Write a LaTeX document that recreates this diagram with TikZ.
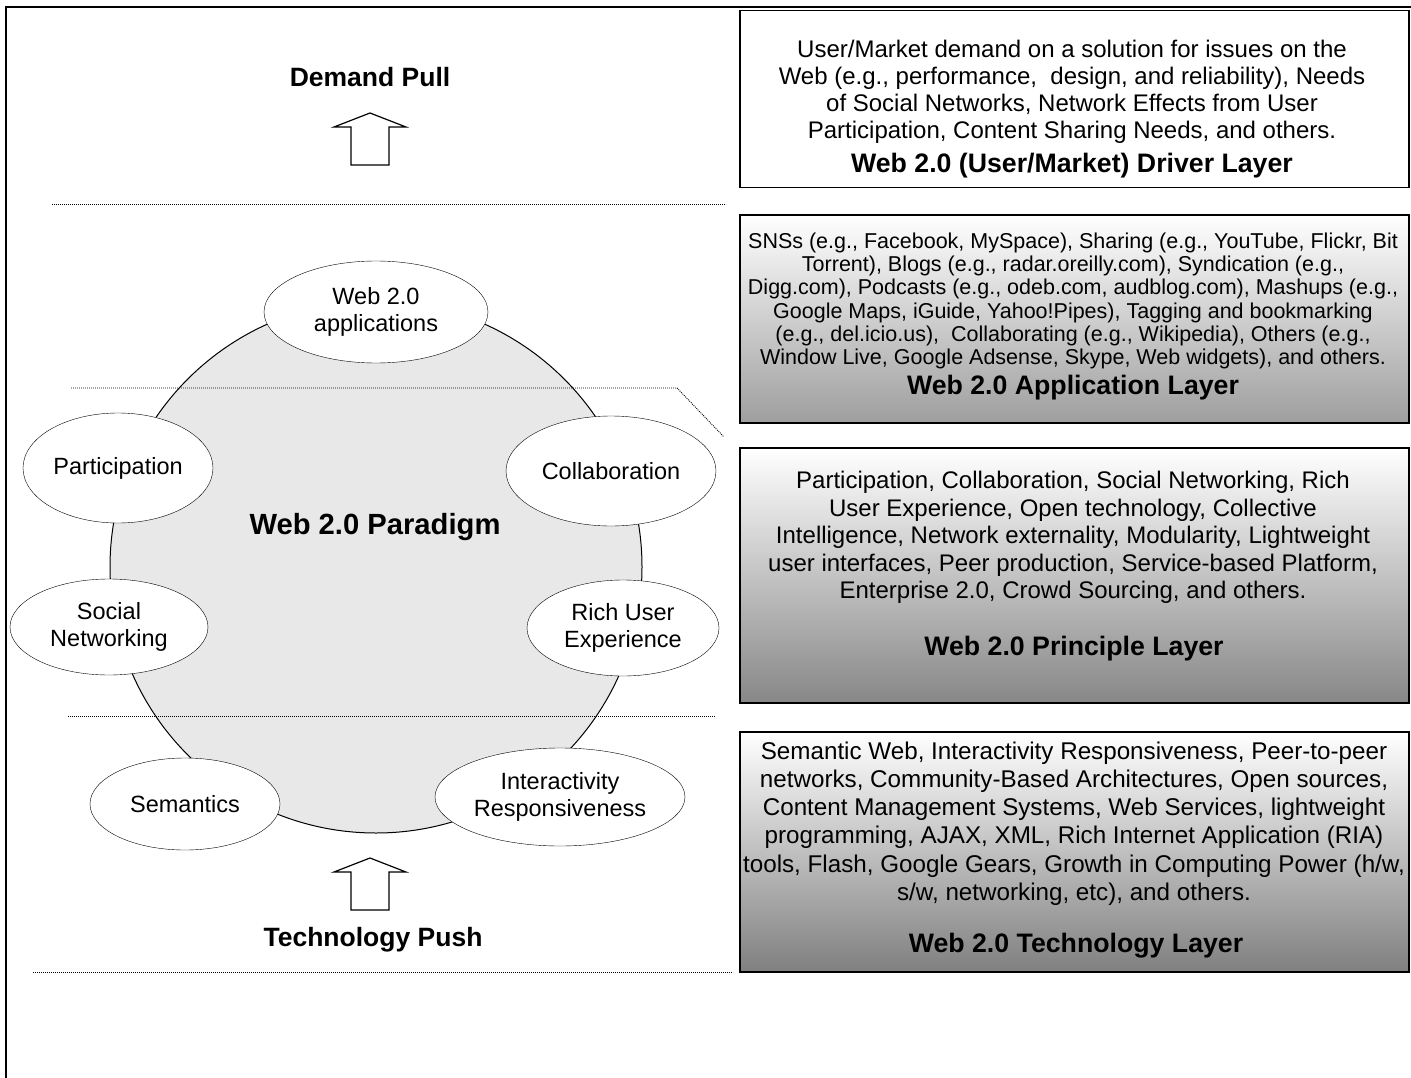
\documentclass[tikz,border=0pt]{standalone}
\usepackage{fontspec}
\setmainfont{Liberation Sans}
\usetikzlibrary{shapes.geometric}
\tikzset{
  bubble/.style={draw,ellipse,fill=white,inner sep=0pt,align=center,
    font=\fontsize{23.5}{27}\selectfont},
  layerbox/.style={draw,line width=1.3pt,inner sep=0pt},
  layertext/.style={align=center},
  layertitle/.style={font=\fontsize{26.7}{28}\selectfont\bfseries},
  dotline/.style={line width=0.9pt,dash pattern=on 0.9pt off 1.1pt}
}
\begin{document}
\begin{tikzpicture}[x=1pt,y=-1pt]
	\useasboundingbox (0,0) rectangle (1411,1078);
	\clip (0,0) rectangle (1411,1078);
		\draw[line width=2.5pt] (5,7)--(1420,7);
		\draw[line width=1.5pt] (6,7)--(6,1090);
	% the paradigm circle
		\node[draw,circle,fill=black!9,line width=1pt,minimum size=532pt,inner sep=0pt] (paradigm) at (376,567) {};
		\node[font=\fontsize{29.2}{32}\selectfont\bfseries] (paradigmlabel) at (375,527) {Web 2.0 Paradigm};
	% layer borders
			\draw[dotline] (52,204)--(726,204);
			\draw[dotline] (71,388)--(677,388)--(724,437);
			\draw[dotline] (68,716)--(715,716);
			\draw[dotline] (33,972)--(733,972);
	% push and pull arrows
		\foreach \ty in {113,858}
			\draw[line width=1.2pt,fill=white] (370,\ty)--(406,\ty+14)--(389,\ty+14)--(389,\ty+52)--(351,\ty+52)--(351,\ty+14)--(334,\ty+14)--cycle;
		\node[font=\fontsize{26.5}{28}\selectfont\bfseries] (pull) at (370,77) {Demand Pull};
		\node[font=\fontsize{26.5}{28}\selectfont\bfseries] (push) at (373,940) {Technology Push};
	% elements round the circle
		\node[bubble,minimum width=224pt,minimum height=102pt] (apps) at (376,312) {Web 2.0\\applications};
		\node[bubble,minimum width=190pt,minimum height=110pt] (particip) at (118,468) {Participation};
		\node[bubble,minimum width=210pt,minimum height=110pt] (collab) at (611,471) {Collaboration};
		\node[bubble,minimum width=198pt,minimum height=96pt] (social) at (109,627) {Social\\Networking};
		\node[bubble,minimum width=192pt,minimum height=96pt] (rich) at (623,628) {Rich User\\Experience};
		\node[bubble,minimum width=190pt,minimum height=92pt] (semantics) at (185,804) {Semantics};
		\node[bubble,minimum width=250pt,minimum height=98pt] (interact) at (560,797) {Interactivity\\Responsiveness};
	% the four layers
		\node[layerbox,fill=white,minimum width=669pt,minimum height=177pt] (driver) at (1074.5,99) {};
		\node[layerbox,top color=white,bottom color=black!38,minimum width=669pt,minimum height=208pt] (application) at (1074.5,319) {};
		\node[layerbox,top color=white,bottom color=black!47,minimum width=669pt,minimum height=255pt] (principle) at (1074.5,575.5) {};
		\node[layerbox,top color=white,bottom color=black!50,minimum width=669pt,minimum height=240pt] (technology) at (1074.5,852) {};
			\node[layertext,font=\fontsize{24}{27}\selectfont] (drivertext) at (1072,92) {User/Market demand on a solution for issues on the\\Web (e.g., performance,\ \ design, and reliability), Needs\\of Social Networks, Network Effects from User\\Participation, Content Sharing Needs, and others.};
			\node[layertitle] (drivertitle) at (1072,166) {Web 2.0 (User/Market) Driver Layer};
			\node[layertext,font=\fontsize{21.5}{23.2}\selectfont] (applicationtext) at (1073,301) {SNSs (e.g., Facebook, MySpace), Sharing (e.g., YouTube, Flickr, Bit\\Torrent), Blogs (e.g., radar.oreilly.com), Syndication (e.g.,\\Digg.com), Podcasts (e.g., odeb.com, audblog.com), Mashups (e.g.,\\Google Maps, iGuide, Yahoo!Pipes), Tagging and bookmarking\\(e.g., del.icio.us),\ \ Collaborating (e.g., Wikipedia), Others (e.g.,\\Window Live, Google Adsense, Skype, Web widgets), and others.};
			\node[layertitle] (applicationtitle) at (1073,388) {Web 2.0 Application Layer};
			\node[layertext,font=\fontsize{24}{27.5}\selectfont] (principletext) at (1073,537.5) {Participation, Collaboration, Social Networking, Rich\\User Experience, Open technology, Collective\\Intelligence, Network externality, Modularity, Lightweight\\user interfaces, Peer production, Service-based Platform,\\Enterprise 2.0, Crowd Sourcing, and others.};
			\node[layertitle] (principletitle) at (1074,649) {Web 2.0 Principle Layer};
			\node[layertext,font=\fontsize{24.2}{28.2}\selectfont] (technologytext) at (1074,823.5) {Semantic Web, Interactivity Responsiveness, Peer-to-peer\\networks, Community-Based Architectures, Open sources,\\Content Management Systems, Web Services, lightweight\\programming, AJAX, XML, Rich Internet Application (RIA)\\tools, Flash, Google Gears, Growth in Computing Power (h/w,\\s/w, networking, etc), and others.};
			\node[layertitle] (technologytitle) at (1076,946) {Web 2.0 Technology Layer};
\end{tikzpicture}
\end{document}
